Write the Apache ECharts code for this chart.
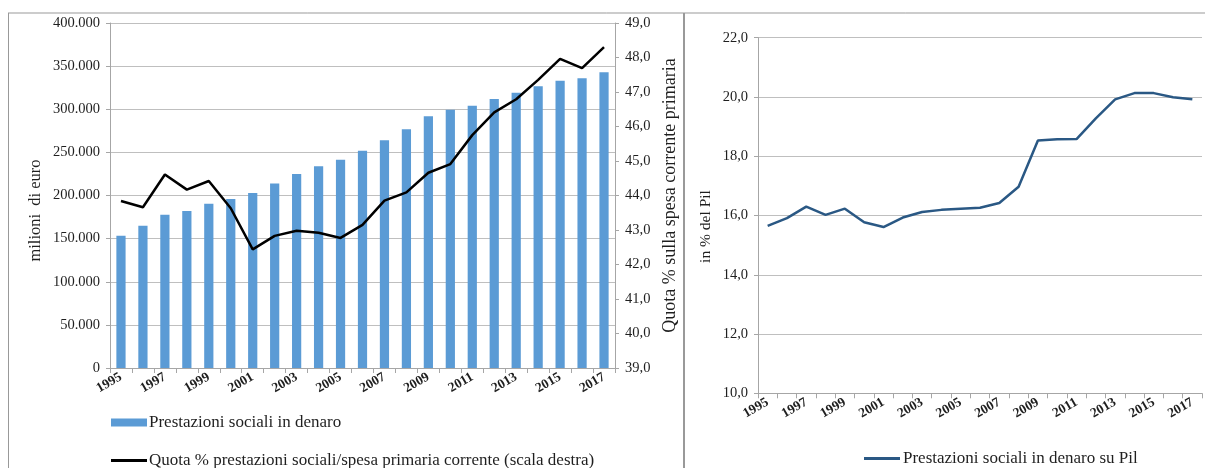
<!DOCTYPE html>
<html>
<head>
<meta charset="utf-8">
<script src="https://cdn.jsdelivr.net/npm/echarts@6/dist/echarts.min.js"></script>
<style>
html,body{margin:0;padding:0;background:#fff;}
#c{width:1205px;height:468px;}
</style>
</head>
<body>
<div id="c"></div>
<script>
const years = ['1995','1996','1997','1998','1999','2000','2001','2002','2003','2004','2005','2006','2007','2008','2009','2010','2011','2012','2013','2014','2015','2016','2017'];
const prestazioni = [153400,165000,177700,182000,190500,196000,203000,214000,225000,234000,241500,252000,264000,276700,291800,299500,304000,311900,319200,326600,333000,336000,342800];
const quota = [43.84,43.66,44.61,44.17,44.42,43.63,42.44,42.83,42.98,42.92,42.77,43.15,43.85,44.09,44.66,44.91,45.75,46.41,46.79,47.35,47.96,47.69,48.30];
const pil = [15.65,15.91,16.30,16.02,16.23,15.77,15.61,15.93,16.12,16.19,16.23,16.26,16.42,16.97,18.53,18.57,18.58,19.28,19.92,20.13,20.13,19.99,19.92];

const nameBar = 'Prestazioni sociali in denaro';
const nameQuota = 'Quota % prestazioni sociali/spesa primaria corrente (scala destra)';
const namePil = 'Prestazioni sociali in denaro su Pil';

const FONT = '"Liberation Serif", "Times New Roman", serif';
const TXT = '#1f1f1f';
const GRIDC = '#bfbfbf';
const AXC = '#a6a6a6';
const LINE_ICON = 'path://M0,0 L36,0 L36,3 L0,3 Z';

const thousands = v => String(v).replace(/\B(?=(\d{3})+(?!\d))/g, '.');
const comma1 = v => v.toFixed(1).replace('.', ',');

const chart = echarts.init(document.getElementById('c'), null, {renderer: 'canvas'});

const xCommon = {
  type: 'category',
  data: years,
  boundaryGap: true,
  axisLine: {lineStyle: {color: AXC, width: 1}},
  axisTick: {show: true, interval: 0, length: 5, lineStyle: {color: AXC}},
  axisLabel: {interval: 1, rotate: 30, fontFamily: FONT, fontWeight: 'bold', fontSize: 13.5, color: TXT, margin: 8},
  splitLine: {show: false}
};

const legendText = {fontFamily: FONT, fontSize: 17, color: TXT, padding: [0,0,0,-3]};

chart.setOption({
  animation: false,
  textStyle: {fontFamily: FONT},
  grid: [
    {left: 110, right: 590, top: 23, bottom: 100, containLabel: false},
    {left: 758, right: 3, top: 37.7, bottom: 74.7, containLabel: false}
  ],
  legend: [
    {data: [{name: nameBar, icon: 'rect'}], left: 106, top: 409, orient: 'vertical', itemWidth: 36, itemHeight: 8, itemGap: 4,
     textStyle: legendText},
    {data: [{name: nameQuota, icon: LINE_ICON}], left: 106, top: 447, orient: 'vertical', itemWidth: 36, itemHeight: 3, itemGap: 4,
     textStyle: legendText},
    {data: [{name: namePil, icon: LINE_ICON}], left: 859, top: 445, orient: 'vertical', itemWidth: 38, itemHeight: 3, itemGap: 4,
     textStyle: legendText}
  ],
  xAxis: [
    Object.assign({gridIndex: 0}, xCommon),
    Object.assign({gridIndex: 1}, xCommon)
  ],
  yAxis: [
    {type: 'value', gridIndex: 0, min: 0, max: 400000, interval: 50000,
     name: 'milioni  di euro', nameLocation: 'middle', nameGap: 66,
     nameTextStyle: {fontFamily: FONT, fontSize: 16.5, color: TXT, padding: [0, 30, 0, 0]},
     axisLine: {show: true, lineStyle: {color: AXC}},
     axisTick: {show: true, length: 4, lineStyle: {color: AXC}},
     axisLabel: {formatter: thousands, fontFamily: FONT, fontSize: 14.5, color: TXT, margin: 10},
     splitLine: {show: true, lineStyle: {color: GRIDC, width: 1}}},
    {type: 'value', gridIndex: 0, position: 'right', min: 39, max: 49, interval: 1,
     name: 'Quota % sulla spesa corrente primaria', nameLocation: 'middle', nameGap: 46,
     nameTextStyle: {fontFamily: FONT, fontSize: 18, color: TXT},
     axisLine: {show: true, lineStyle: {color: AXC}},
     axisTick: {show: true, length: 4, lineStyle: {color: AXC}},
     axisLabel: {formatter: comma1, fontFamily: FONT, fontSize: 14.5, color: TXT, margin: 10},
     splitLine: {show: false}},
    {type: 'value', gridIndex: 1, min: 10, max: 22, interval: 2,
     name: 'in % del Pil', nameLocation: 'middle', nameGap: 44,
     nameTextStyle: {fontFamily: FONT, fontSize: 15.5, color: TXT, padding: [0, 22, 0, 0]},
     axisLine: {show: true, lineStyle: {color: AXC}},
     axisTick: {show: true, length: 4, lineStyle: {color: AXC}},
     axisLabel: {formatter: comma1, fontFamily: FONT, fontSize: 14.5, color: TXT, margin: 10},
     splitLine: {show: true, lineStyle: {color: GRIDC, width: 1}}}
  ],
  series: [
    {name: nameBar, type: 'bar', xAxisIndex: 0, yAxisIndex: 0, data: prestazioni, barWidth: '42%',
     itemStyle: {color: '#5b9bd5'}},
    {name: nameQuota, type: 'line', xAxisIndex: 0, yAxisIndex: 1, data: quota, symbol: 'none',
     lineStyle: {color: '#000000', width: 2.5}, itemStyle: {color: '#000000'}},
    {name: namePil, type: 'line', xAxisIndex: 1, yAxisIndex: 2, data: pil, symbol: 'none',
     lineStyle: {color: '#2a5884', width: 2.5}, itemStyle: {color: '#2a5884'}}
  ],
  graphic: [
    {type: 'line', shape: {x1: 8, y1: 13, x2: 1205, y2: 13}, style: {stroke: '#999999', lineWidth: 1}, silent: true},
    {type: 'line', shape: {x1: 8.5, y1: 13, x2: 8.5, y2: 468}, style: {stroke: '#999999', lineWidth: 1}, silent: true},
    {type: 'line', shape: {x1: 684, y1: 13, x2: 684, y2: 468}, style: {stroke: '#999999', lineWidth: 2}, silent: true}
  ]
});
</script>
</body>
</html>
